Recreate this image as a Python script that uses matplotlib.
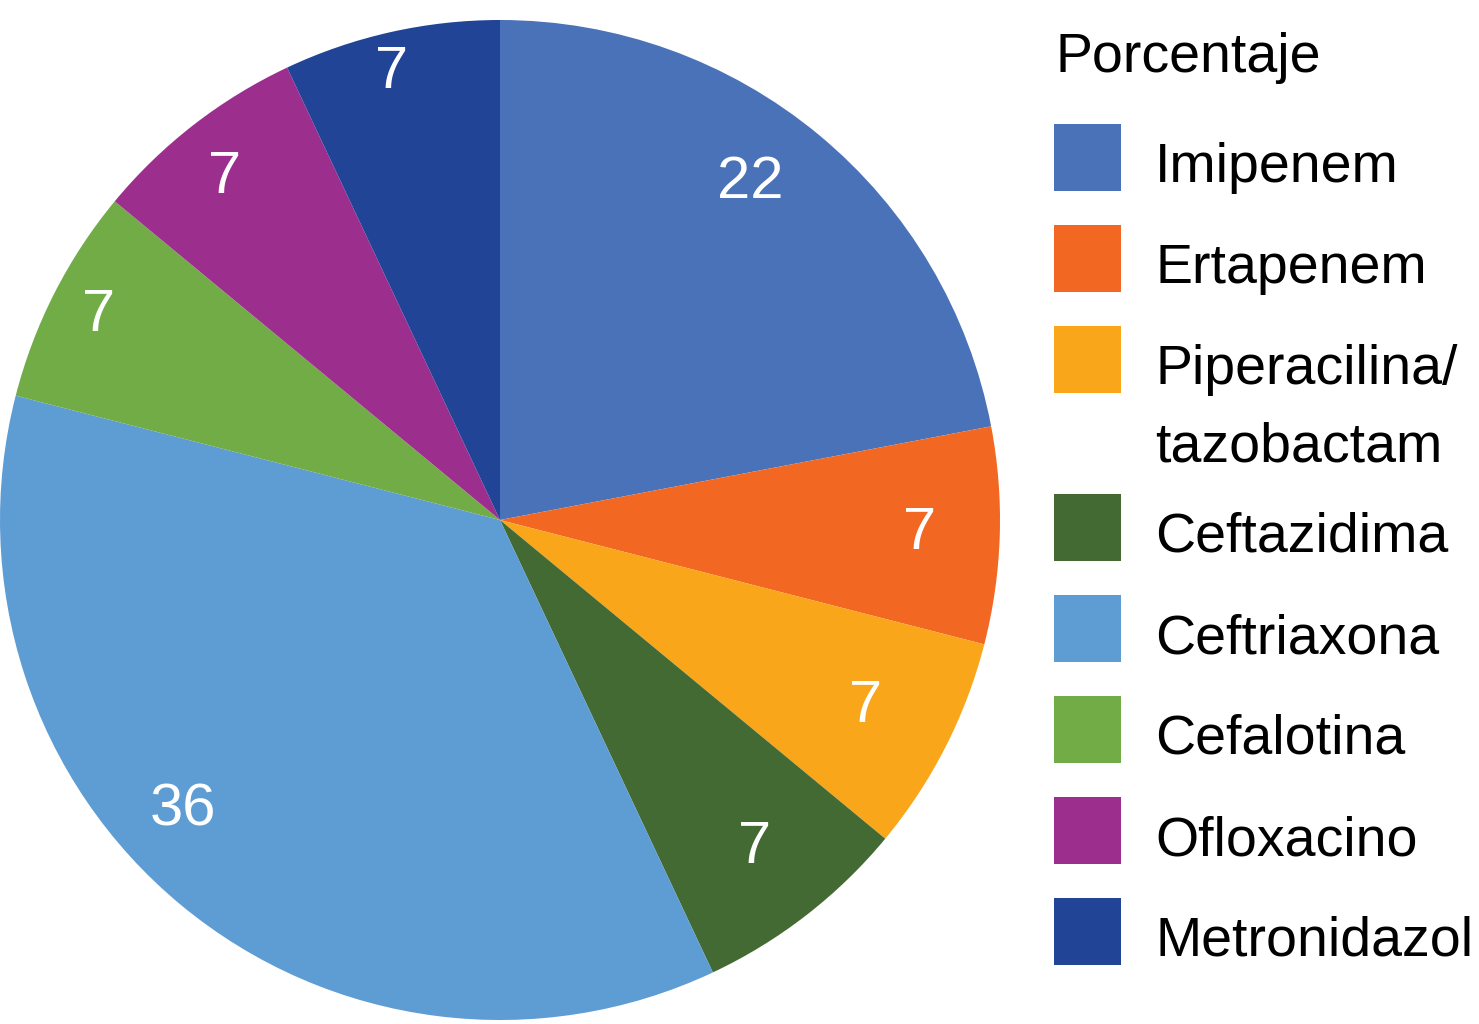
import matplotlib
matplotlib.use("Agg")
import numpy as np
import matplotlib.pyplot as plt
from matplotlib.patches import Rectangle

plt.rcParams['font.family'] = ['Liberation Sans', 'DejaVu Sans']

labels = ["Imipenem", "Ertapenem", "Piperacilina/\ntazobactam", "Ceftazidima",
          "Ceftriaxona", "Cefalotina", "Ofloxacino", "Metronidazol"]
values = [22, 7, 7, 7, 36, 7, 7, 7]
colors = ["#4A72B8", "#F26722", "#F9A61B", "#436A33",
          "#5E9CD4", "#72AC47", "#9C2E8E", "#214497"]
legend_title = "Porcentaje"

W, H = 1479, 1024


def px(x, y):
    # pixel position (from top-left) -> figure fraction
    return x / W, 1 - y / H


def plot_pie():
    fig = plt.figure(figsize=(W / 100, H / 100), dpi=100)
    ax = fig.add_axes([0.0, 4 / H, 1000 / W, 1000 / H])
    wedges, texts = ax.pie(values, colors=colors, startangle=90, counterclock=False,
                           labels=[str(v) for v in values], labeldistance=0.84,
                           textprops=dict(color="white", fontsize=43, ha="center", va="center"))
    ax.set_aspect("equal")
    ax.set_xlim(-1, 1)
    ax.set_ylim(-1, 1)

    # label placement tweaks (radius, angle shift in degrees)
    label_r = [0.84, 0.84, 0.82, 0.83, 0.86, 0.90, 0.88, 0.92]
    label_da = [3, 0, 0, 0, -8, 0, 1, 1]
    for w, t, r, da in zip(wedges, texts, label_r, label_da):
        ang = np.deg2rad((w.theta1 + w.theta2) / 2 + da)
        t.set_position((r * np.cos(ang), r * np.sin(ang)))

    # legend drawn by hand so the square lines up with the first text line
    fig.text(*px(1055, 72), legend_title, fontsize=40, va="baseline", ha="left")
    top = 124
    for lab, c in zip(labels, colors):
        x0, y0 = px(1054, top + 67)
        fig.add_artist(Rectangle((x0, y0), 67 / W, 67 / H, transform=fig.transFigure,
                                 facecolor=c, edgecolor="none"))
        lines = lab.split("\n")
        for i, line in enumerate(lines):
            fig.text(*px(1155, top + 58 + 77 * i), line, fontsize=40,
                     va="baseline", ha="left")
        top += 101 + 67 * (len(lines) - 1)

    fig.savefig("out.png", dpi=100)


if __name__ == "__main__":
    plot_pie()
